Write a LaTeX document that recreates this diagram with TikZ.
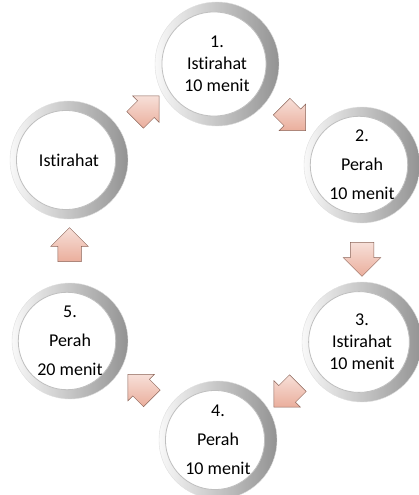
\documentclass[tikz,border=0pt]{standalone}
\usepackage{fontspec}
\setmainfont{Carlito}[Ligatures=NoCommon]
\usetikzlibrary{shapes.arrows,calc}
\definecolor{peach}{RGB}{232,165,145}

\begin{document}
\begin{tikzpicture}[x=1pt,y=-1pt,
    stage/.style={circle,minimum size=#1,inner sep=0pt,align=center,
      font=\fontsize{18}{22}\selectfont,
      left color=gray!5,right color=gray!85,draw=gray!25,line width=0.4pt,
      path picture={\fill[white,draw=gray!50,line width=0.8pt]
        ($(path picture bounding box.center)+(-3,0)$) circle (0.42*#1);}},
    stage/.default=118pt,
    flowarrow/.style={single arrow,minimum height=34pt,inner sep=0pt,
      single arrow head extend=7pt,
      top color=peach!35,bottom color=peach!90,draw=peach!60!black,
      line width=0.5pt,rotate=#1}]
  \useasboundingbox (0,0) rectangle (419,495);
  \node[stage] (s0) at (69,160) {Istirahat};
  \node[stage=124pt] (s1) at (217,64) {1.\\Istirahat\\10 menit};
  \node[stage=116pt] (s2) at (362,165) {2.\\[7pt]Perah\\[7pt]10 menit};
  \node[stage=120pt] (s3) at (362,342) {3.\\Istirahat\\10 menit};
  \node[stage] (s4) at (218,440) {4.\\[7pt]Perah\\[7pt]10 menit};
  \node[stage=116pt] (s5) at (70,341) {5.\\[7pt]Perah\\[7pt]20 menit};
  % panah antar tahap
  \node[flowarrow=45] (a1) at ($(s0)!0.5!(s1)$) {\rule{0pt}{23pt}};
  \node[flowarrow=-45] (a2) at ($(s1)!0.5!(s2)$) {\rule{0pt}{23pt}};
  \node[flowarrow=-90] (a3) at ($(s2)!0.5!(s3)$) {\rule{0pt}{23pt}};
  \node[flowarrow=-135] (a4) at ($(s3)!0.5!(s4)$) {\rule{0pt}{23pt}};
  \node[flowarrow=135] (a5) at ($(s4)!0.5!(s5)$) {\rule{0pt}{23pt}};
  \node[flowarrow=90] (a6) at ($(s5)!0.5!(s0)$) {\rule{0pt}{23pt}};
\end{tikzpicture}
\end{document}
